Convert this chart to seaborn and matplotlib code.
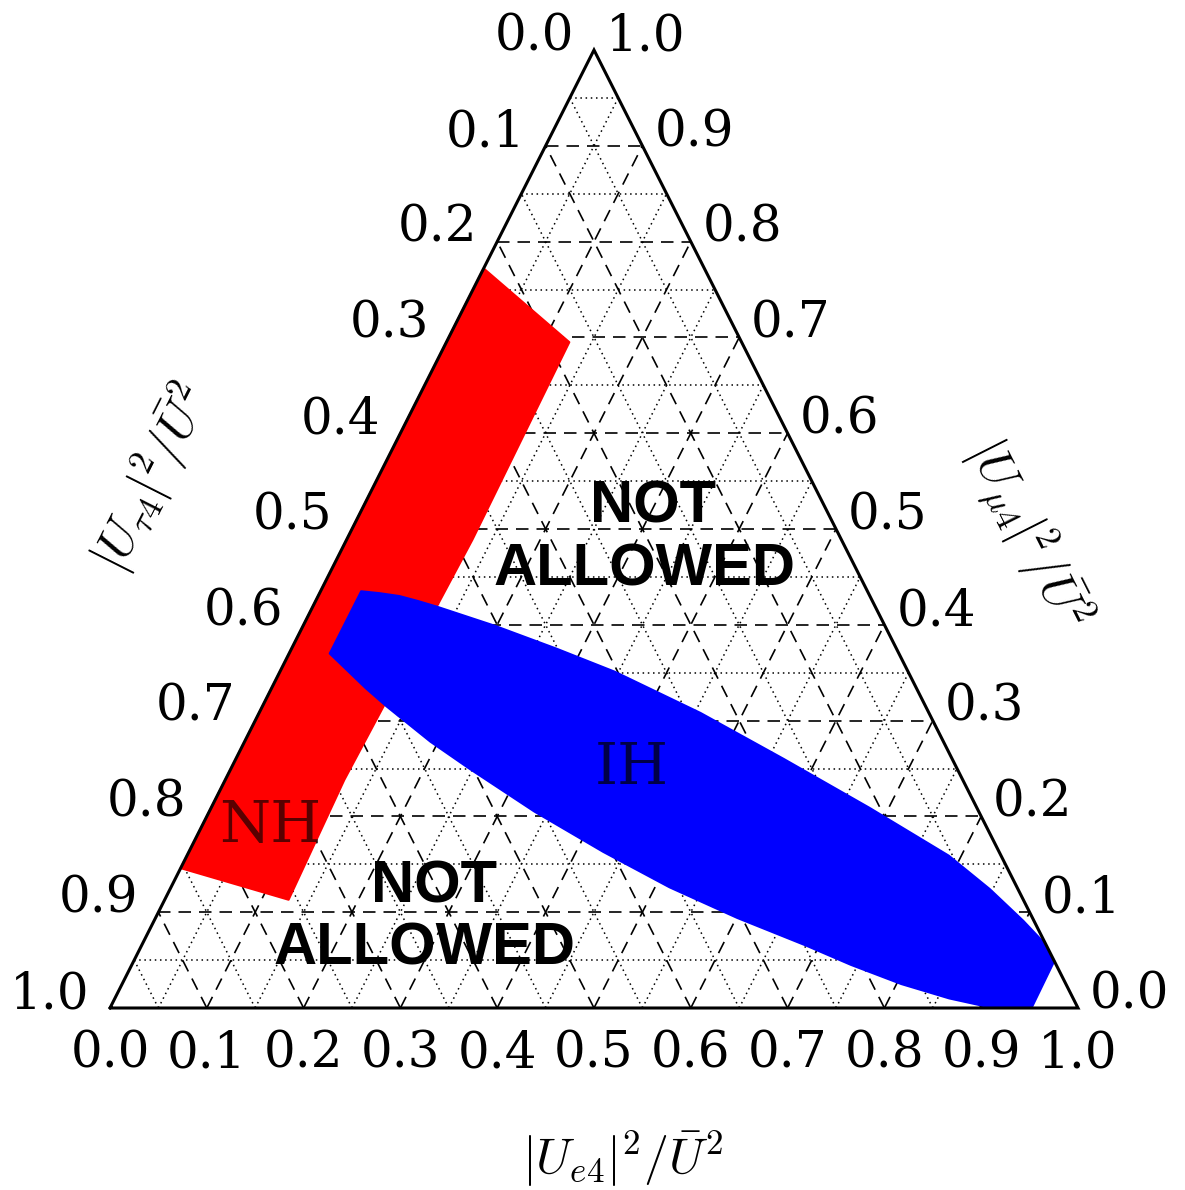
import numpy as np
import matplotlib
matplotlib.use("Agg")
import matplotlib.pyplot as plt
from matplotlib.transforms import offset_copy
import seaborn as sns

# Tick values used on all three sides of the ternary diagram
ticks = [0.0, 0.1, 0.2, 0.3, 0.4, 0.5, 0.6, 0.7, 0.8, 0.9, 1.0]
tick_labels = ["0.0", "0.1", "0.2", "0.3", "0.4", "0.5", "0.6", "0.7", "0.8", "0.9", "1.0"]
major_lines = [0.1, 0.2, 0.3, 0.4, 0.5, 0.6, 0.7, 0.8, 0.9]
minor_lines = [0.05, 0.15, 0.25, 0.35, 0.45, 0.55, 0.65, 0.75, 0.85, 0.95]

# Normal hierarchy region, boundary as (|U_e4|^2, |U_mu4|^2) fractions
nh_e = [0.000, 0.127, 0.130, 0.123, 0.128, 0.000]
nh_mu = [0.772, 0.695, 0.489, 0.238, 0.113, 0.146]

# Inverted hierarchy region: upper and lower boundaries
ih_upper_e = [0.042, 0.062, 0.084, 0.105, 0.128, 0.198, 0.274, 0.346, 0.456,
              0.566, 0.680, 0.787, 0.847, 0.898, 0.931, 0.951]
ih_upper_mu = [0.435, 0.433, 0.430, 0.425, 0.419, 0.399, 0.375, 0.351, 0.308,
               0.260, 0.209, 0.159, 0.124, 0.091, 0.068, 0.049]
ih_lower_e = [0.042, 0.097, 0.128, 0.192, 0.246, 0.336, 0.428, 0.515, 0.601,
              0.687, 0.743, 0.805, 0.862, 0.897, 0.912, 0.952]
ih_lower_mu = [0.370, 0.334, 0.315, 0.278, 0.250, 0.205, 0.163, 0.126, 0.094,
               0.065, 0.045, 0.025, 0.010, 0.003, 0.000, 0.000]


def to_xy(e, mu):
    """Ternary (e, mu) fractions -> cartesian position inside the triangle."""
    e = np.asarray(e, dtype=float)
    mu = np.asarray(mu, dtype=float)
    return e + mu / 2.0, mu


sns.set_theme(style="white")
plt.rcParams["font.family"] = ["DejaVu Serif"]
plt.rcParams["mathtext.fontset"] = "cm"
plt.rcParams["text.color"] = "black"

W, H = 1185, 1190
fig = plt.figure(figsize=(W / 100, H / 100), dpi=100)
fig.patch.set_facecolor("white")
ax = fig.add_axes([110 / W, (H - 1008) / H, 968 / W, 958 / H])
ax.set_xlim(0, 1)
ax.set_ylim(0, 1)
ax.axis("off")


# Grid: dashed at every 0.1, dotted halfway between
def grid_family(values, **kw):
    for c in values:
        for ee, mm in (([0, 1 - c], [c, c]),          # constant mu
                       ([c, c], [0, 1 - c]),          # constant e
                       ([1 - c, 0], [0, 1 - c])):     # constant tau
            x, y = to_xy(ee, mm)
            ax.plot(x, y, color="black", zorder=1, **kw)


grid_family(major_lines, lw=1.2, dashes=(7.5, 4.8))
grid_family(minor_lines, lw=1.1, dashes=(1.0, 2.4))

# Excluded-region labels
na_kw = dict(family="Liberation Sans", fontweight="bold", fontsize=43,
             ha="center", va="baseline", zorder=2, color="black")
ax.text(0.561, 0.5073, "NOT", **na_kw)
ax.text(0.5527, 0.4415, "ALLOWED", **na_kw)
ax.text(0.3347, 0.1106, "NOT", **na_kw)
ax.text(0.3254, 0.0449, "ALLOWED", **na_kw)

# Allowed regions
x, y = to_xy(nh_e, nh_mu)
ax.fill(x, y, facecolor="#ff0000", edgecolor="#ff0000", lw=1.5,
        joinstyle="round", zorder=3)

ih_e = list(ih_upper_e) + list(ih_lower_e[::-1])
ih_mu = list(ih_upper_mu) + list(ih_lower_mu[::-1])
x, y = to_xy(ih_e, ih_mu)
ax.fill(x, y, facecolor="#0000ff", edgecolor="#0000ff", lw=1.5,
        joinstyle="round", zorder=4)

# Triangle outline
x, y = to_xy([0, 1, 0, 0], [0, 0, 1, 0])
ax.plot(x, y, color="black", lw=2.2, solid_joinstyle="miter", zorder=5,
        clip_on=False)

ax.text(0.1653, 0.190, "NH", fontsize=42, color="black", alpha=0.65,
        ha="center", va="center", zorder=6)
ax.text(0.539, 0.2505, "IH", fontsize=42, color="black", alpha=0.72,
        ha="center", va="center", zorder=6)

# Tick labels on the three sides
tr_left = offset_copy(ax.transData, fig=fig, x=-20, y=19, units="dots")
tr_right = offset_copy(ax.transData, fig=fig, x=12, y=19, units="dots")
tr_bottom = offset_copy(ax.transData, fig=fig, x=0, y=-40, units="dots")
for t, lab in zip(ticks, tick_labels):
    x, y = to_xy(0.0, 1.0 - t)
    ax.text(x, y, lab, transform=tr_left, ha="right", va="center_baseline",
            fontsize=36, clip_on=False)
    x, y = to_xy(1.0 - t, t)
    ax.text(x, y, lab, transform=tr_right, ha="left", va="center_baseline",
            fontsize=36, clip_on=False)
    x, y = to_xy(t, 0.0)
    ax.text(x, y, lab, transform=tr_bottom, ha="center", va="center_baseline",
            fontsize=36, clip_on=False)

# Axis titles
ax.text(0.529, -0.157, r"$|U_{e4}|^2/\bar{U}^2$", fontsize=36,
        ha="center", va="center", clip_on=False)
ax.text(0.0434, 0.553, r"$|U_{\tau4}|^2/\bar{U}^2$", fontsize=36,
        rotation=63.2, ha="center", va="center", clip_on=False)
ax.text(0.948, 0.494, r"$|U_{\mu4}|^2/\bar{U}^2$", fontsize=36,
        rotation=-63.2, ha="center", va="center", clip_on=False)

fig.savefig("out.png", dpi=100, facecolor="white")
